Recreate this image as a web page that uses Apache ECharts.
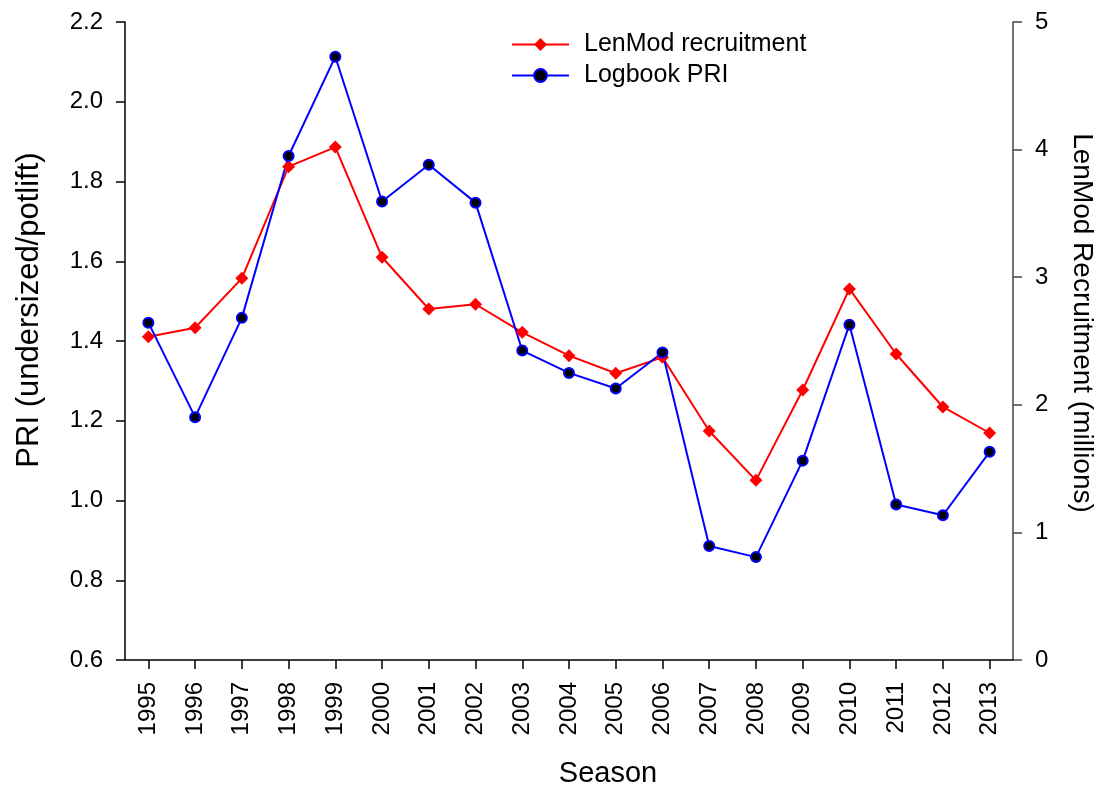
<!DOCTYPE html>
<html>
<head>
<meta charset="utf-8">
<title>PRI and LenMod recruitment by season</title>
<script src="https://cdn.jsdelivr.net/npm/echarts@6/dist/echarts.min.js"></script>
<style>
  html, body { margin: 0; padding: 0; background: #fff; }
  #chart { width: 1103px; height: 789px; }
</style>
</head>
<body>
<div id="chart"></div>
<script>
// Seasons on the x axis
const seasons = ['1995','1996','1997','1998','1999','2000','2001','2002','2003','2004',
                 '2005','2006','2007','2008','2009','2010','2011','2012','2013'];

// Logbook pre-recruit index (undersized per potlift), left axis
const logbookPRI = [1.446, 1.209, 1.458, 1.864, 2.113, 1.750, 1.842, 1.747, 1.376, 1.320,
                    1.281, 1.371, 0.886, 0.858, 1.100, 1.441, 0.990, 0.963, 1.122];

// Length-based model recruitment (millions), right axis
const lenModRecruitment = [2.534, 2.604, 2.991, 3.866, 4.020, 3.156, 2.751, 2.788, 2.568, 2.385,
                           2.247, 2.372, 1.795, 1.408, 2.116, 2.908, 2.398, 1.983, 1.779];

// Axis ranges
const priAxis = { min: 0.6, max: 2.2, step: 0.2 };
const recruitAxis = { min: 0, max: 5, step: 1 };

const FONT = "'Liberation Sans', Arial, Helvetica, sans-serif";

const chart = echarts.init(document.getElementById('chart'), null, { renderer: 'canvas' });

chart.setOption({
  backgroundColor: '#ffffff',
  animation: false,
  textStyle: { fontFamily: FONT, color: '#000' },
  grid: { left: 125, right: 90, top: 22, bottom: 129, containLabel: false, outerBoundsMode: 'none' },
  legend: {
    orient: 'vertical',
    left: 506,
    top: 27,
    itemWidth: 57,
    itemHeight: 16,
    itemGap: 6,
    textStyle: { fontFamily: FONT, fontSize: 25, color: '#000', padding: [0, 0, 0, 10] },
    data: ['LenMod recruitment', 'Logbook PRI']
  },
  xAxis: {
    type: 'category',
    data: seasons,
    boundaryGap: true,
    name: 'Season',
    nameLocation: 'middle',
    nameGap: 99,
    nameTextStyle: { fontFamily: FONT, fontSize: 29, color: '#000', padding: [0, 0, 0, 78] },
    axisLine: { show: true, lineStyle: { color: '#000', width: 1.5 } },
    axisTick: { show: true, alignWithLabel: true, length: 9, lineStyle: { color: '#000', width: 1.5 } },
    axisLabel: { rotate: 90, margin: 22, fontFamily: FONT, fontSize: 24, color: '#000', interval: 0 },
    splitLine: { show: false }
  },
  yAxis: [
    {
      type: 'value',
      position: 'left',
      min: priAxis.min,
      max: priAxis.max,
      interval: priAxis.step,
      name: 'PRI (undersized/potlift)',
      nameLocation: 'middle',
      nameRotate: 90,
      nameGap: 80,
      nameTextStyle: { fontFamily: FONT, fontSize: 31, color: '#000', padding: [0, 0, 0, 62] },
      axisLine: { show: true, lineStyle: { color: '#000', width: 1.5 } },
      axisTick: { show: true, length: 9, lineStyle: { color: '#000', width: 1.5 } },
      axisLabel: {
        margin: 22, fontFamily: FONT, fontSize: 24, color: '#000',
        formatter: v => v.toFixed(1)
      },
      splitLine: { show: false }
    },
    {
      type: 'value',
      position: 'right',
      min: recruitAxis.min,
      max: recruitAxis.max,
      interval: recruitAxis.step,
      name: 'LenMod Recruitment (millions)',
      nameLocation: 'middle',
      nameRotate: -90,
      nameGap: 55,
      nameTextStyle: { fontFamily: FONT, fontSize: 28, color: '#000', padding: [0, 36, 0, 0] },
      axisLine: { show: true, lineStyle: { color: '#444', width: 1.5 } },
      axisTick: { show: true, length: 9, lineStyle: { color: '#444', width: 1.5 } },
      axisLabel: { margin: 22, fontFamily: FONT, fontSize: 24, color: '#000' },
      splitLine: { show: false }
    }
  ],
  series: [
    {
      name: 'LenMod recruitment',
      type: 'line',
      yAxisIndex: 1,
      data: lenModRecruitment,
      symbol: 'diamond',
      symbolSize: 13,
      showAllSymbol: true,
      lineStyle: { color: '#ff0000', width: 2 },
      itemStyle: { color: '#ff0000', borderColor: '#ff0000', borderWidth: 0 }
    },
    {
      name: 'Logbook PRI',
      type: 'line',
      yAxisIndex: 0,
      data: logbookPRI,
      symbol: 'circle',
      symbolSize: 10,
      showAllSymbol: true,
      lineStyle: { color: '#0000ff', width: 2 },
      itemStyle: { color: '#000000', borderColor: '#0000ff', borderWidth: 2 }
    }
  ]
});
</script>
</body>
</html>
